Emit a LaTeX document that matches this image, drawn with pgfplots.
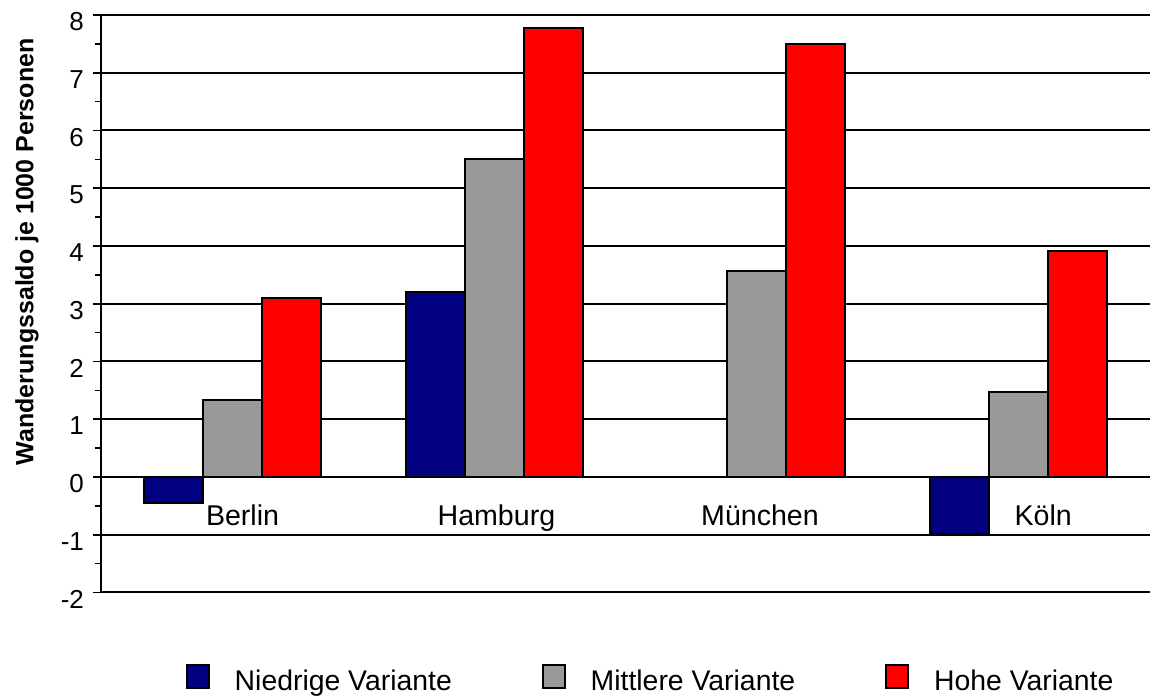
\documentclass[border=0pt]{standalone}
\usepackage{fontspec}
\setmainfont{Liberation Sans}
\usepackage{pgfplots}
\pgfplotsset{compat=1.18}
\definecolor{niedrig}{HTML}{000080}
\definecolor{mittel}{HTML}{999999}
\definecolor{hoch}{HTML}{FF0000}
\begin{document}
\begin{tikzpicture}
\begin{axis}[
    scale only axis,
    width=525pt, height=289pt,
    xmin=-0.5, xmax=3.5,
    ymin=-2, ymax=8,
    axis x line=none,
    axis y line=left,
    axis line style={-, line width=1pt},
    ytick={-2,...,8},
    minor ytick={-1.5,-0.5,...,7.5},
    /pgf/number format/assume math mode=true,
    yticklabel={\fontsize{13}{15}\selectfont\pgfmathprintnumber{\tick}},
    tick align=outside,
    major tick length=4pt, minor tick length=3pt,
    tick style={black, line width=0.8pt},
    yticklabel style={xshift=-1pt, yshift=-3.3pt},
    ymajorgrids,
    grid style={black, line width=1pt},
    ylabel={\bfseries Wanderungssaldo je 1000 Personen},
    ylabel style={at={(axis description cs:-0.0705,0.59)}, anchor=center,
        font=\fontsize{12.5}{14}\selectfont},
    ybar, bar width=0.225,
    legend columns=3,
    legend style={draw=none, at={(0.523,-0.1246)}, anchor=north,
        inner sep=0pt, outer sep=0pt,
        font=\fontsize{14.2}{16}\selectfont,
        nodes={inner sep=0pt},
        /tikz/every odd column/.append style={column sep=12.5pt},
        /tikz/every even column/.append style={column sep=45pt}},
    legend image code/.code={\draw[#1, line width=1pt] (0.5pt,-3.5pt) rectangle (11.5pt,8pt);},
]
\addplot[fill=niedrig, draw=black, line width=1pt, bar shift=-0.225]
    coordinates {(0,-0.45) (1,3.2) (3,-0.98)};
\addlegendentry{Niedrige Variante}
\addplot[fill=mittel, draw=black, line width=1pt, bar shift=0]
    coordinates {(0,1.34) (1,5.5) (2,3.56) (3,1.48)};
\addlegendentry{Mittlere Variante}
\addplot[fill=hoch, draw=black, line width=1pt, bar shift=0.225]
    coordinates {(0,3.1) (1,7.78) (2,7.5) (3,3.92)};
\addlegendentry{Hohe Variante}
\node[font=\fontsize{14.3}{16}\selectfont, anchor=base] at (axis cs:0.04,-0.833) {Berlin};
\node[font=\fontsize{14.3}{16}\selectfont, anchor=base] at (axis cs:1.008,-0.833) {Hamburg};
\node[font=\fontsize{14.3}{16}\selectfont, anchor=base] at (axis cs:2.013,-0.833) {München};
\node[font=\fontsize{14.3}{16}\selectfont, anchor=base] at (axis cs:3.093,-0.833) {Köln};
\coordinate (sw) at (rel axis cs:0,0);
\coordinate (ne) at (rel axis cs:1,1);
\end{axis}
\pgfresetboundingbox
\path ([shift={(-50.5pt,-52.5pt)}]sw) rectangle ([shift={(0.5pt,7.5pt)}]ne);
\end{tikzpicture}
\end{document}
